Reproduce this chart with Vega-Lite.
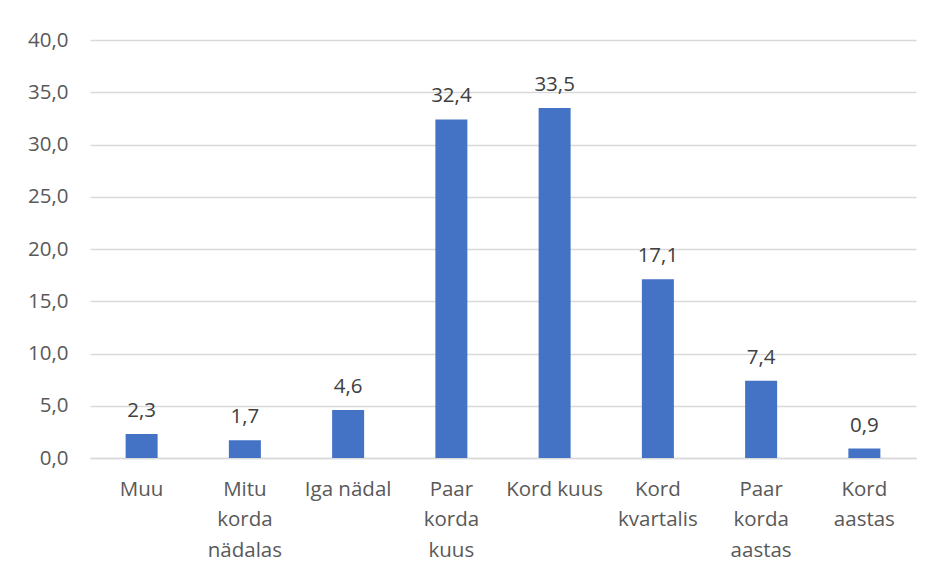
{
  "$schema": "https://vega.github.io/schema/vega-lite/v6.json",
  "width": 826,
  "height": 418,
  "autosize": {"type": "none"},
  "padding": {"left": 90, "top": 40, "right": 14, "bottom": 113},
  "background": "white",
  "config": {
    "view": {"stroke": null},
    "font": "Open Sans",
    "locale": {"number": {"decimal": ",", "thousands": " ", "grouping": [3], "currency": ["", " €"]}}
  },
  "data": {
    "values": [
      {"kategooria": "Muu", "vaartus": 2.3},
      {"kategooria": "Mitu|korda|nädalas", "vaartus": 1.7},
      {"kategooria": "Iga nädal", "vaartus": 4.6},
      {"kategooria": "Paar|korda|kuus", "vaartus": 32.4},
      {"kategooria": "Kord kuus", "vaartus": 33.5},
      {"kategooria": "Kord|kvartalis", "vaartus": 17.1},
      {"kategooria": "Paar|korda|aastas", "vaartus": 7.4},
      {"kategooria": "Kord|aastas", "vaartus": 0.9}
    ]
  },
  "encoding": {
    "x": {
      "field": "kategooria",
      "type": "nominal",
      "sort": null,
      "scale": {"paddingInner": 0.69, "paddingOuter": 0.345},
      "axis": {
        "title": null,
        "labelAngle": 0,
        "labelExpr": "split(datum.value, '|')",
        "labelFont": "Open Sans",
        "labelFontSize": 20.5,
        "labelColor": "#595959",
        "labelLineHeight": 30.5,
        "labelBaseline": "top",
        "labelPadding": 21,
        "ticks": false,
        "domainColor": "#d9d9d9",
        "domainWidth": 1.5,
        "grid": false
      }
    },
    "y": {
      "field": "vaartus",
      "type": "quantitative",
      "scale": {"domain": [0, 40], "nice": false},
      "axis": {
        "title": null,
        "values": [0, 5, 10, 15, 20, 25, 30, 35, 40],
        "format": ".1f",
        "labelFont": "Open Sans",
        "labelFontSize": 20.5,
        "labelColor": "#595959",
        "labelPadding": 22,
        "ticks": false,
        "domain": false,
        "gridColor": "#d9d9d9",
        "gridWidth": 1.5
      }
    }
  },
  "layer": [
    {"mark": {"type": "bar", "color": "#4472C4"}},
    {
      "mark": {"type": "text", "baseline": "alphabetic", "dy": -17, "fontSize": 20.5, "color": "#404040", "font": "Open Sans"},
      "encoding": {"text": {"field": "vaartus", "type": "quantitative", "format": ".1f"}}
    }
  ]
}
